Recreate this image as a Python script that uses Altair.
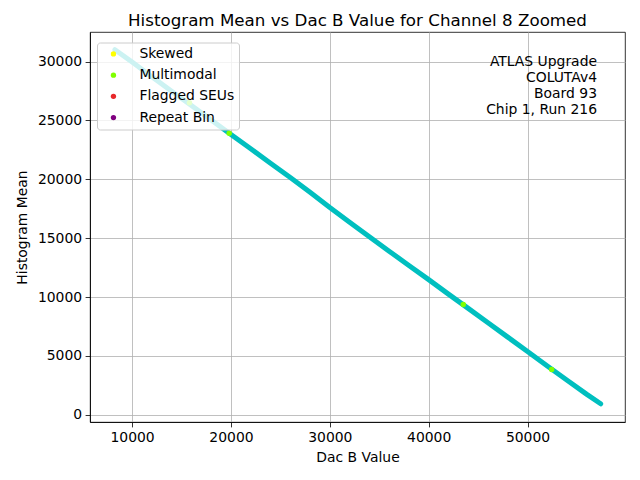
import altair as alt
import pandas as pd

# main series
dac_b = [8260, 10000, 12000, 14000, 16000, 18000, 20000, 22000, 24000, 26000,
         28000, 30000, 32000, 34000, 36000, 38000, 40000, 42000, 44000, 46000,
         48000, 50000, 52000, 54000, 56000, 57400]
hist_mean = [31000, 29950, 28700, 27480, 26260, 25040, 23800, 22600, 21370, 20150,
             18900, 17600, 16360, 15130, 13900, 12680, 11480, 10250, 9040, 7820,
             6600, 5380, 4150, 2940, 1740, 940]

# flagged points
flag_x = [15800, 19820, 43500, 52440]
flag_y = [26500, 23900, 9370, 3850]
flag_cat = ["Multimodal", "Multimodal", "Multimodal", "Multimodal"]

categories = ["Skewed", "Multimodal", "Flagged SEUs", "Repeat Bin"]
cat_colors = ["#ffff00", "#7fff00", "#e8282b", "#800080"]

x_ticks = [10000, 20000, 30000, 40000, 50000]
y_ticks = [0, 5000, 10000, 15000, 20000, 25000, 30000]

note_lines = ["ATLAS Upgrade", "COLUTAv4\u00a0", "Board 93", "Chip 1, Run 216"]

main_df = pd.DataFrame({"x": dac_b, "y": hist_mean})
flag_df = pd.DataFrame({"x": flag_x, "y": flag_y, "cat": flag_cat})
note_df = pd.DataFrame({"t": [0]})

FONT = "DejaVu Sans"

xscale = alt.Scale(domain=[5740, 59860], nice=False, zero=False)
yscale = alt.Scale(domain=[-605, 32505], nice=False, zero=False)

xaxis = alt.Axis(title="Dac B Value", values=x_ticks, format="d", grid=True, titlePadding=6)
yaxis = alt.Axis(title="Histogram Mean", values=y_ticks, format="d", grid=True, titlePadding=8)

line = alt.Chart(main_df).mark_line(
    color="#00bfbf", strokeWidth=5, strokeCap="round", strokeJoin="round"
).encode(
    x=alt.X("x:Q", scale=xscale, axis=xaxis),
    y=alt.Y("y:Q", scale=yscale, axis=yaxis),
)

points = alt.Chart(flag_df).mark_circle(size=30, opacity=1).encode(
    x=alt.X("x:Q", scale=xscale),
    y=alt.Y("y:Q", scale=yscale),
    color=alt.Color(
        "cat:N",
        scale=alt.Scale(domain=categories, range=cat_colors),
        legend=alt.Legend(
            title=None,
            orient="none",
            legendX=7,
            legendY=10.5,
            symbolType="circle",
            symbolSize=28,
            symbolStrokeWidth=0,
            symbolOffset=5,
            labelOffset=19,
            labelFont=FONT,
            labelFontSize=13.9,
            labelColor="black",
            rowPadding=6.2,
            padding=4.5,
            fillColor="rgba(255,255,255,0.8)",
            strokeColor="#cccccc",
            cornerRadius=3,
            zindex=2,
        ),
    ),
)

note = alt.Chart(note_df).mark_text(
    align="right", baseline="alphabetic", font=FONT, fontSize=13.9,
    lineHeight=16, color="black"
).encode(
    x=alt.value(507),
    y=alt.value(34),
    text=alt.value(note_lines),
)

chart = alt.layer(line, points, note).properties(
    width=535,
    height=390,
    autosize=alt.AutoSizeParams(type="none"),
    padding={"left": 82, "top": 24, "right": 7, "bottom": 50},
    title=alt.Title(
        "Histogram Mean vs Dac B Value for Channel 8 Zoomed",
        font=FONT, fontSize=16.7, fontWeight="normal", color="black",
        offset=2, anchor="middle",
    ),
).configure_view(
    stroke="black", strokeWidth=0.8
).configure_axis(
    labelFont=FONT, labelFontSize=13.9, labelColor="black",
    titleFont=FONT, titleFontSize=13.9, titleFontWeight="normal", titleColor="black",
    domainColor="black", domainWidth=0.8,
    tickColor="black", tickWidth=0.8, tickSize=4.9,
    labelPadding=3.5,
    gridColor="#b0b0b0", gridWidth=0.8,
)

chart.save("out.html", embed_options={"renderer": "svg", "actions": False})
